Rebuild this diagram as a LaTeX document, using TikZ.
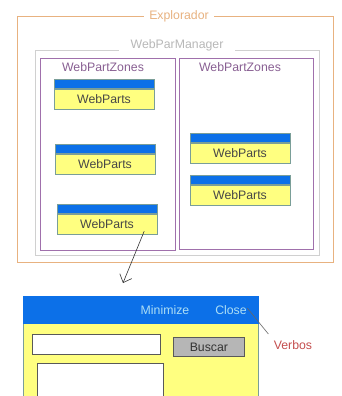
\documentclass[tikz,border=0pt]{standalone}
\usepackage{fontspec}
\setmainfont{Liberation Sans}
\usetikzlibrary{arrows,arrows.meta,positioning}
\definecolor{explo}{RGB}{232,178,128}
\definecolor{mgr}{RGB}{208,208,208}
\definecolor{zona}{RGB}{160,112,172}
\definecolor{barra}{RGB}{12,112,232}
\definecolor{amarillo}{RGB}{255,255,128}
\definecolor{borde}{RGB}{122,158,152}
\definecolor{verbo}{RGB}{196,78,78}
\definecolor{boton}{RGB}{182,182,182}
\definecolor{celeste}{RGB}{172,222,245}
\tikzset{
  letra/.style={font=\fontsize{12.3}{14}\selectfont},
  marco/.style={draw, line width=0.9pt, inner sep=0pt, anchor=north west},
  titulo/.style={letra, fill=white, inner ysep=2pt},
  webpart/.style={letra, draw=borde, fill=amarillo, text=black!72, minimum width=100pt, minimum height=20pt, inner sep=0pt},
  barrita/.style={draw=borde, fill=barra, minimum width=100pt, minimum height=9pt, inner sep=0pt},
  campo/.style={draw=black!65, fill=white, line width=0.8pt, inner sep=0pt, anchor=north west}
}
\newcommand{\webparts}[2]{%
  \node[webpart] (#1) at (#2) {WebParts};
  \node[barrita, above=0pt of #1] (#1b) {};}
\begin{document}
\begin{tikzpicture}[x=1pt, y=-1pt]
  \clip (0,0) rectangle (342,396);
  \node[marco, draw=explo, minimum width=316pt, minimum height=246pt] (explorador) at (17,16) {};
  \node[titulo, text=explo, inner xsep=5pt] (tit1) at (179,16) {Explorador};
  \node[marco, draw=mgr, minimum width=284pt, minimum height=205pt] (manager) at (35,50) {};
  \node[titulo, text=black!28, inner xsep=12pt] (tit2) at (177,45) {WebParManager};
  \node[marco, draw=zona, minimum width=135pt, minimum height=192pt] (zona1) at (40,58) {};
  \node[marco, draw=zona, minimum width=134pt, minimum height=191pt] (zona2) at (179,58) {};
  \node[letra, text=zona!85!black] (tz1) at (103,67) {WebPartZones};
  \node[letra, text=zona!85!black] (tz2) at (240,67) {WebPartZones};
  \webparts{wp1}{104,99}
  \webparts{wp2}{105,164}
  \webparts{wp3}{107,224}
  \webparts{wp4}{240,153}
  \webparts{wp5}{240,195}
  \coordinate (punta) at (123,283);
  \draw[-{Straight Barb[length=7pt,width=13pt]}, black!80, line width=0.6pt] ([xshift=-13pt,yshift=3pt]wp3.south east) -- (punta);
  \node[marco, draw=borde, fill=amarillo, minimum width=235pt, minimum height=120pt] (ventana) at (23,296) {};
  \node[marco, draw=barra, fill=barra, minimum width=235pt, minimum height=27pt] (titbar) at (23,296) {};
  \node[letra, text=celeste] (minimize) at (165,310) {Minimize};
  \node[letra, text=celeste] (close) at (231,310) {Close};
  \node[campo, minimum width=128pt, minimum height=20pt] (texto) at (32,334) {};
  \node[campo, fill=boton, minimum width=71pt, minimum height=19pt] (buscar) at (173,337) {};
  \node[letra, text=black!80] at (buscar.center) {Buscar};
  \node[campo, minimum width=126pt, minimum height=45pt] (area) at (37,363) {};
  \node[letra, text=verbo] (verbos) at (293,345) {Verbos};
  \draw[black!60, line width=0.6pt] ([xshift=-3pt,yshift=2pt]close.east) -- ([xshift=-2pt,yshift=3pt]verbos.north west);
\end{tikzpicture}
\end{document}
